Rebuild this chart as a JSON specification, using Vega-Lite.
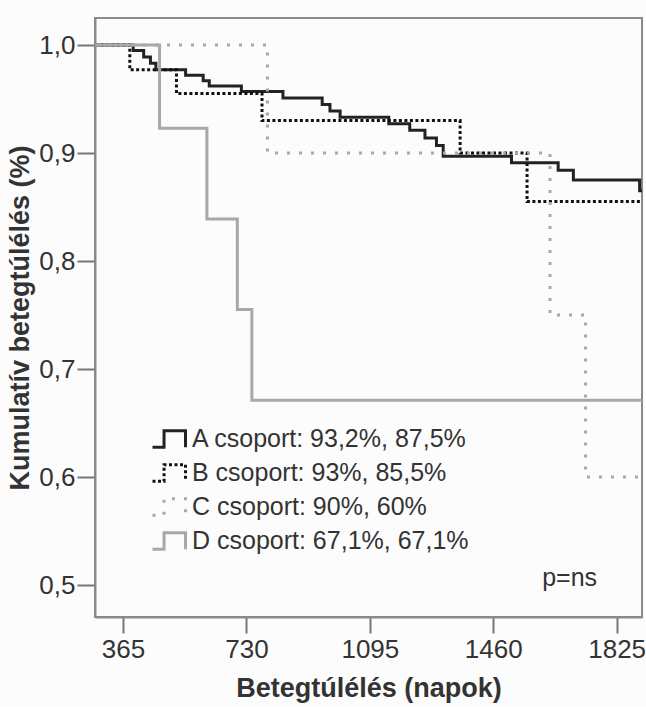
{
  "$schema": "https://vega.github.io/schema/vega-lite/v6.json",
  "width": 547,
  "height": 599,
  "padding": {"left": 6, "top": 18, "right": 5, "bottom": 5},
  "background": "#fcfcfc",
  "config": {
    "font": "Liberation Sans",
    "view": {"stroke": "#8a8a8a", "strokeWidth": 2},
    "axis": {
      "grid": false,
      "domainColor": "#8a8a8a",
      "domainWidth": 2,
      "tickColor": "#777777",
      "tickWidth": 2,
      "labelFont": "Liberation Sans",
      "labelFontSize": 26,
      "labelColor": "#333333",
      "titleFont": "Liberation Sans",
      "titleFontSize": 27,
      "titleFontWeight": "bold",
      "titleColor": "#333333"
    }
  },
  "layer": [
    {
      "data": {
        "values": [
          {"csoport": "A csoport: 93,2%, 87,5%", "nap": 282, "surv": 1.0},
          {"csoport": "A csoport: 93,2%, 87,5%", "nap": 395, "surv": 0.995},
          {"csoport": "A csoport: 93,2%, 87,5%", "nap": 426, "surv": 0.989},
          {"csoport": "A csoport: 93,2%, 87,5%", "nap": 446, "surv": 0.983},
          {"csoport": "A csoport: 93,2%, 87,5%", "nap": 462, "surv": 0.977},
          {"csoport": "A csoport: 93,2%, 87,5%", "nap": 550, "surv": 0.972},
          {"csoport": "A csoport: 93,2%, 87,5%", "nap": 602, "surv": 0.967},
          {"csoport": "A csoport: 93,2%, 87,5%", "nap": 620, "surv": 0.962},
          {"csoport": "A csoport: 93,2%, 87,5%", "nap": 715, "surv": 0.957},
          {"csoport": "A csoport: 93,2%, 87,5%", "nap": 838, "surv": 0.951},
          {"csoport": "A csoport: 93,2%, 87,5%", "nap": 954, "surv": 0.945},
          {"csoport": "A csoport: 93,2%, 87,5%", "nap": 977, "surv": 0.939},
          {"csoport": "A csoport: 93,2%, 87,5%", "nap": 1007, "surv": 0.933},
          {"csoport": "A csoport: 93,2%, 87,5%", "nap": 1151, "surv": 0.927},
          {"csoport": "A csoport: 93,2%, 87,5%", "nap": 1213, "surv": 0.921},
          {"csoport": "A csoport: 93,2%, 87,5%", "nap": 1258, "surv": 0.914},
          {"csoport": "A csoport: 93,2%, 87,5%", "nap": 1292, "surv": 0.907},
          {"csoport": "A csoport: 93,2%, 87,5%", "nap": 1312, "surv": 0.897},
          {"csoport": "A csoport: 93,2%, 87,5%", "nap": 1514, "surv": 0.891},
          {"csoport": "A csoport: 93,2%, 87,5%", "nap": 1652, "surv": 0.884},
          {"csoport": "A csoport: 93,2%, 87,5%", "nap": 1697, "surv": 0.875},
          {"csoport": "A csoport: 93,2%, 87,5%", "nap": 1893, "surv": 0.865},
          {"csoport": "A csoport: 93,2%, 87,5%", "nap": 1900, "surv": 0.865},
          {"csoport": "B csoport: 93%, 85,5%", "nap": 282, "surv": 1.0},
          {"csoport": "B csoport: 93%, 85,5%", "nap": 385, "surv": 0.977},
          {"csoport": "B csoport: 93%, 85,5%", "nap": 523, "surv": 0.955},
          {"csoport": "B csoport: 93%, 85,5%", "nap": 776, "surv": 0.930},
          {"csoport": "B csoport: 93%, 85,5%", "nap": 1362, "surv": 0.900},
          {"csoport": "B csoport: 93%, 85,5%", "nap": 1560, "surv": 0.855},
          {"csoport": "B csoport: 93%, 85,5%", "nap": 1900, "surv": 0.855},
          {"csoport": "C csoport: 90%, 60%", "nap": 282, "surv": 1.0},
          {"csoport": "C csoport: 90%, 60%", "nap": 792, "surv": 0.900},
          {"csoport": "C csoport: 90%, 60%", "nap": 1628, "surv": 0.750},
          {"csoport": "C csoport: 90%, 60%", "nap": 1733, "surv": 0.600},
          {"csoport": "C csoport: 90%, 60%", "nap": 1900, "surv": 0.600},
          {"csoport": "D csoport: 67,1%, 67,1%", "nap": 282, "surv": 1.0},
          {"csoport": "D csoport: 67,1%, 67,1%", "nap": 473, "surv": 0.923},
          {"csoport": "D csoport: 67,1%, 67,1%", "nap": 613, "surv": 0.839},
          {"csoport": "D csoport: 67,1%, 67,1%", "nap": 703, "surv": 0.755},
          {"csoport": "D csoport: 67,1%, 67,1%", "nap": 746, "surv": 0.671},
          {"csoport": "D csoport: 67,1%, 67,1%", "nap": 1900, "surv": 0.671}
        ]
      },
      "mark": {"type": "line", "interpolate": "step-after", "strokeWidth": 3, "strokeCap": "butt", "clip": true},
      "encoding": {
        "x": {
          "field": "nap", "type": "quantitative",
          "scale": {"domain": [282, 1900], "nice": false, "zero": false},
          "axis": {"values": [365, 730, 1095, 1460, 1825], "format": "d", "title": "Betegtúlélés (napok)", "tickSize": 16, "labelPadding": 3, "titlePadding": 13}
        },
        "y": {
          "field": "surv", "type": "quantitative",
          "scale": {"domain": [0.4704, 1.025], "nice": false, "zero": false},
          "axis": {"values": [0.5, 0.6, 0.7, 0.8, 0.9, 1.0], "labelExpr": "replace(format(datum.value, '.1f'), '.', ',')", "title": "Kumulatív betegtúlélés (%)", "tickSize": 18, "labelPadding": 2, "titlePadding": 4}
        },
        "color": {
          "field": "csoport", "type": "nominal",
          "scale": {
            "domain": ["A csoport: 93,2%, 87,5%", "B csoport: 93%, 85,5%", "C csoport: 90%, 60%", "D csoport: 67,1%, 67,1%"],
            "range": ["#222222", "#111111", "#a8a8a8", "#a8a8a8"]
          },
          "legend": {
            "title": null,
            "orient": "none",
            "legendX": 56,
            "legendY": 403,
            "labelFont": "Liberation Sans",
            "labelFontSize": 25,
            "labelColor": "#333333",
            "labelLimit": 500,
            "labelOffset": 5,
            "rowPadding": 1,
            "symbolType": "M-1,0.5H-0.3V-0.5H1V0.5",
            "symbolSize": 1089,
            "symbolStrokeWidth": 3,
            "symbolFillColor": "transparent"
          }
        },
        "strokeDash": {
          "field": "csoport", "type": "nominal",
          "scale": {
            "domain": ["A csoport: 93,2%, 87,5%", "B csoport: 93%, 85,5%", "C csoport: 90%, 60%", "D csoport: 67,1%, 67,1%"],
            "range": [[1, 0], [3, 2.5], [3, 9], [1, 0]]
          },
          "legend": {
            "title": null,
            "orient": "none",
            "legendX": 56,
            "legendY": 403,
            "labelFont": "Liberation Sans",
            "labelFontSize": 25,
            "labelColor": "#333333",
            "labelLimit": 500,
            "labelOffset": 5,
            "rowPadding": 1,
            "symbolType": "M-1,0.5H-0.3V-0.5H1V0.5",
            "symbolSize": 1089,
            "symbolStrokeWidth": 3,
            "symbolFillColor": "transparent"
          }
        }
      }
    },
    {
      "data": {"values": [{"nap": 1686, "surv": 0.5065, "label": "p=ns"}]},
      "mark": {"type": "text", "font": "Liberation Sans", "fontSize": 25, "color": "#333333", "align": "center", "baseline": "middle"},
      "encoding": {
        "x": {"field": "nap", "type": "quantitative"},
        "y": {"field": "surv", "type": "quantitative"},
        "text": {"field": "label"}
      }
    }
  ]
}
